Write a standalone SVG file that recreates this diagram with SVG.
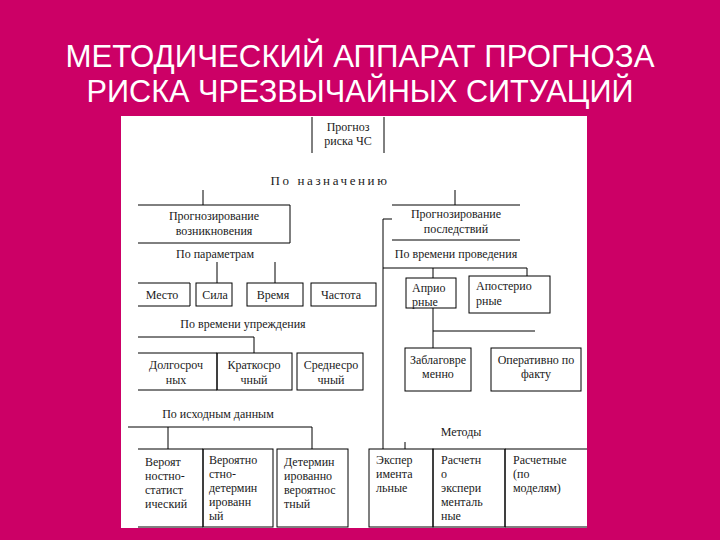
<svg xmlns="http://www.w3.org/2000/svg" width="720" height="540" viewBox="0 0 720 540">
<style>
.t{font-family:"Liberation Serif","DejaVu Serif",serif;font-size:12px;fill:#1a1a1a}
.c{text-anchor:middle}
.ln{stroke:#000;stroke-width:1;fill:none}
.title{font-family:"Liberation Sans",Arial,sans-serif;font-size:31px;fill:#fff;text-anchor:middle}
</style>
<rect x="0" y="0" width="720" height="540" fill="#CC0066"/>
<text class="title" x="360" y="67" textLength="589" lengthAdjust="spacingAndGlyphs">МЕТОДИЧЕСКИЙ АППАРАТ ПРОГНОЗА</text>
<text class="title" x="360" y="102" textLength="547" lengthAdjust="spacingAndGlyphs">РИСКА ЧРЕЗВЫЧАЙНЫХ СИТУАЦИЙ</text>
<rect x="121" y="116" width="466" height="412" fill="#fff"/>

<g id="connectors" class="ln">
<path d="M203 190V205"/>
<path d="M455 190V205"/>
<path d="M217 262V283M275 262V283"/>
<path d="M138 337H254V353"/>
<path d="M128 427H312M168 427V449M312 427V449"/>
<path d="M392 219H383V449"/>
<path d="M383 268H527V276"/>
<path d="M433 268V278M433 308V348M433 331H535"/>
<path d="M405 442V449"/>
</g>

<g id="n-root">
<path class="ln" d="M312 117V153M384 117V153"/>
<text class="t c" x="348" y="131">Прогноз</text>
<text class="t c" x="348" y="145">риска ЧС</text>
</g>
<g id="l-naznach"><text class="t c" x="330" y="185" style="font-size:13px;letter-spacing:2.6px">По назначению</text></g>

<g id="n-vozn">
<path class="ln" d="M138 205H290V243H138"/>
<text class="t c" x="214" y="220">Прогнозирование</text>
<text class="t c" x="214" y="235">возникновения</text>
</g>
<g id="l-param"><text class="t c" x="215" y="258">По параметрам</text></g>
<g id="n-mesto"><path class="ln" d="M138 283H190V306H138"/><text class="t c" x="162" y="299">Место</text></g>
<g id="n-sila"><rect class="ln" x="196" y="283" width="36" height="23"/><text class="t c" x="215" y="299">Сила</text></g>
<g id="n-vremya"><rect class="ln" x="247" y="283" width="56" height="23"/><text class="t c" x="273" y="299">Время</text></g>
<g id="n-chastota"><rect class="ln" x="311" y="283" width="65" height="23"/><text class="t c" x="341" y="299">Частота</text></g>

<g id="l-upr"><text class="t c" x="243" y="328">По времени упреждения</text></g>
<g id="n-dolg"><path class="ln" d="M138 353H217V390H138"/><text class="t c" x="176" y="369">Долгосроч</text><text class="t c" x="176" y="384">ных</text></g>
<g id="n-krat"><rect class="ln" x="217" y="353" width="75" height="37"/><text class="t c" x="254" y="369">Краткосро</text><text class="t c" x="254" y="384">чный</text></g>
<g id="n-sred"><rect class="ln" x="297" y="353" width="66" height="37"/><text class="t c" x="331" y="369">Среднесро</text><text class="t c" x="331" y="384">чный</text></g>

<g id="l-ishod"><text class="t c" x="218" y="418">По исходным данным</text></g>
<g id="n-verstat"><path class="ln" d="M138 449H203V527H138"/>
<text class="t" x="145" y="466">Вероят</text><text class="t" x="145" y="480">ностно-</text><text class="t" x="145" y="494">статист</text><text class="t" x="145" y="508">ический</text></g>
<g id="n-verdet"><rect class="ln" x="203" y="449" width="70" height="78"/>
<text class="t" x="209" y="464">Вероятно</text><text class="t" x="209" y="478">стно-</text><text class="t" x="209" y="492">детермин</text><text class="t" x="209" y="506">ированн</text><text class="t" x="209" y="520">ый</text></g>
<g id="n-detver"><rect class="ln" x="277" y="449" width="71" height="78"/>
<text class="t" x="284" y="466">Детермин</text><text class="t" x="284" y="480">ированно</text><text class="t" x="284" y="494">вероятнос</text><text class="t" x="284" y="508">тный</text></g>

<g id="n-posl">
<path class="ln" d="M392 205H520M392 240H520"/>
<text class="t c" x="456" y="218">Прогнозирование</text>
<text class="t c" x="456" y="233">последствий</text>
</g>
<g id="l-prov"><text class="t c" x="456" y="258">По времени проведения</text></g>
<g id="n-apri"><rect class="ln" x="406" y="278" width="50" height="30"/><text class="t" x="412" y="292">Априо</text><text class="t" x="412" y="306">рные</text></g>
<g id="n-apost"><rect class="ln" x="469" y="276" width="81" height="37"/><text class="t" x="476" y="290">Апостерио</text><text class="t" x="476" y="305">рные</text></g>
<g id="n-zabl"><rect class="ln" x="405" y="348" width="66" height="43"/><text class="t c" x="438" y="364">Заблаговре</text><text class="t c" x="438" y="378">менно</text></g>
<g id="n-oper"><rect class="ln" x="491" y="348" width="90" height="43"/><text class="t c" x="536" y="364">Оперативно по</text><text class="t c" x="536" y="378">факту</text></g>

<g id="l-metody"><text class="t c" x="461" y="436">Методы</text></g>
<g id="n-eksp"><rect class="ln" x="369" y="449" width="64" height="78"/>
<text class="t" x="376" y="464">Экспер</text><text class="t" x="376" y="478">имента</text><text class="t" x="376" y="492">льные</text></g>
<g id="n-rasexp"><rect class="ln" x="433" y="449" width="72" height="78"/>
<text class="t" x="441" y="464">Расчетн</text><text class="t" x="441" y="478">о</text><text class="t" x="441" y="492">экспери</text><text class="t" x="441" y="506">менталь</text><text class="t" x="441" y="520">ные</text></g>
<g id="n-ras"><path class="ln" d="M505 527V449H587M505 527H587"/>
<text class="t" x="513" y="464">Расчетные</text><text class="t" x="513" y="478">(по</text><text class="t" x="513" y="492">моделям)</text></g>
</svg>
